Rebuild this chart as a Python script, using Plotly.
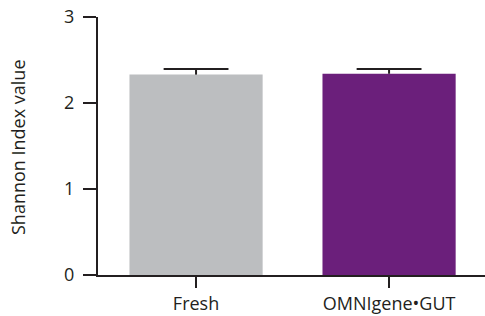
import plotly.graph_objects as go

categories = ["Fresh", "OMNIgene•GUT"]
means = [2.33, 2.34]
sem = [0.065, 0.055]
colors = ["#BCBEC0", "#6B1F7B"]
y_ticks = [0, 1, 2, 3]

ink = "#231F20"
xpos = list(range(len(categories)))
cap_half = 0.168  # half-width of error-bar cap in category units

fig = go.Figure()
fig.add_trace(go.Bar(
    x=xpos, y=means, width=0.69,
    marker=dict(color=colors, line=dict(width=0)),
    showlegend=False, hoverinfo="skip",
))

# upper-only error bars (stem + cap), built from the data arrays
ex, ey = [], []
for xi, m, s in zip(xpos, means, sem):
    ex += [xi, xi, None, xi - cap_half, xi + cap_half, None]
    ey += [m, m + s, None, m + s, m + s, None]
fig.add_trace(go.Scatter(
    x=ex, y=ey, mode="lines", line=dict(color=ink, width=2),
    showlegend=False, hoverinfo="skip", cliponaxis=False,
))

W, H = 485, 316
l, r, t, b = 98, 0, 17, 41
fig.update_layout(
    width=W, height=H,
    margin=dict(l=l, r=r, t=t, b=b),
    plot_bgcolor="white", paper_bgcolor="white",
    font=dict(family="Open Sans", size=18, color=ink),
    xaxis=dict(
        range=[-0.508, 1.497], tickmode="array", tickvals=xpos, ticktext=categories,
        showline=True, linecolor=ink, linewidth=2, ticks="outside", ticklen=11,
        tickwidth=2, tickcolor=ink, showgrid=False, zeroline=False,
        tickfont=dict(size=18),
    ),
    yaxis=dict(
        range=[0, 3], tickmode="array", tickvals=y_ticks,
        showline=True, linecolor=ink, linewidth=2, ticks="outside", ticklen=13,
        tickwidth=2, tickcolor=ink, showgrid=False, zeroline=False,
        tickfont=dict(size=18), ticklabelstandoff=5,
    ),
    annotations=[dict(
        text="Shannon Index value", textangle=-90, xref="paper", yref="paper",
        x=(18 - l) / (W - l - r), y=(H - 147 - b) / (H - t - b),
        xanchor="center", yanchor="middle", showarrow=False,
        font=dict(size=18, color=ink),
    )],
)
fig.write_html("out.html", config={"displayModeBar": False})

with open("out.html", encoding="utf-8") as f:
    html = f.read()
html = html.replace("<head>", "<head><style>html,body{margin:0;padding:0;overflow:hidden}</style>", 1)
with open("out.html", "w", encoding="utf-8") as f:
    f.write(html)
